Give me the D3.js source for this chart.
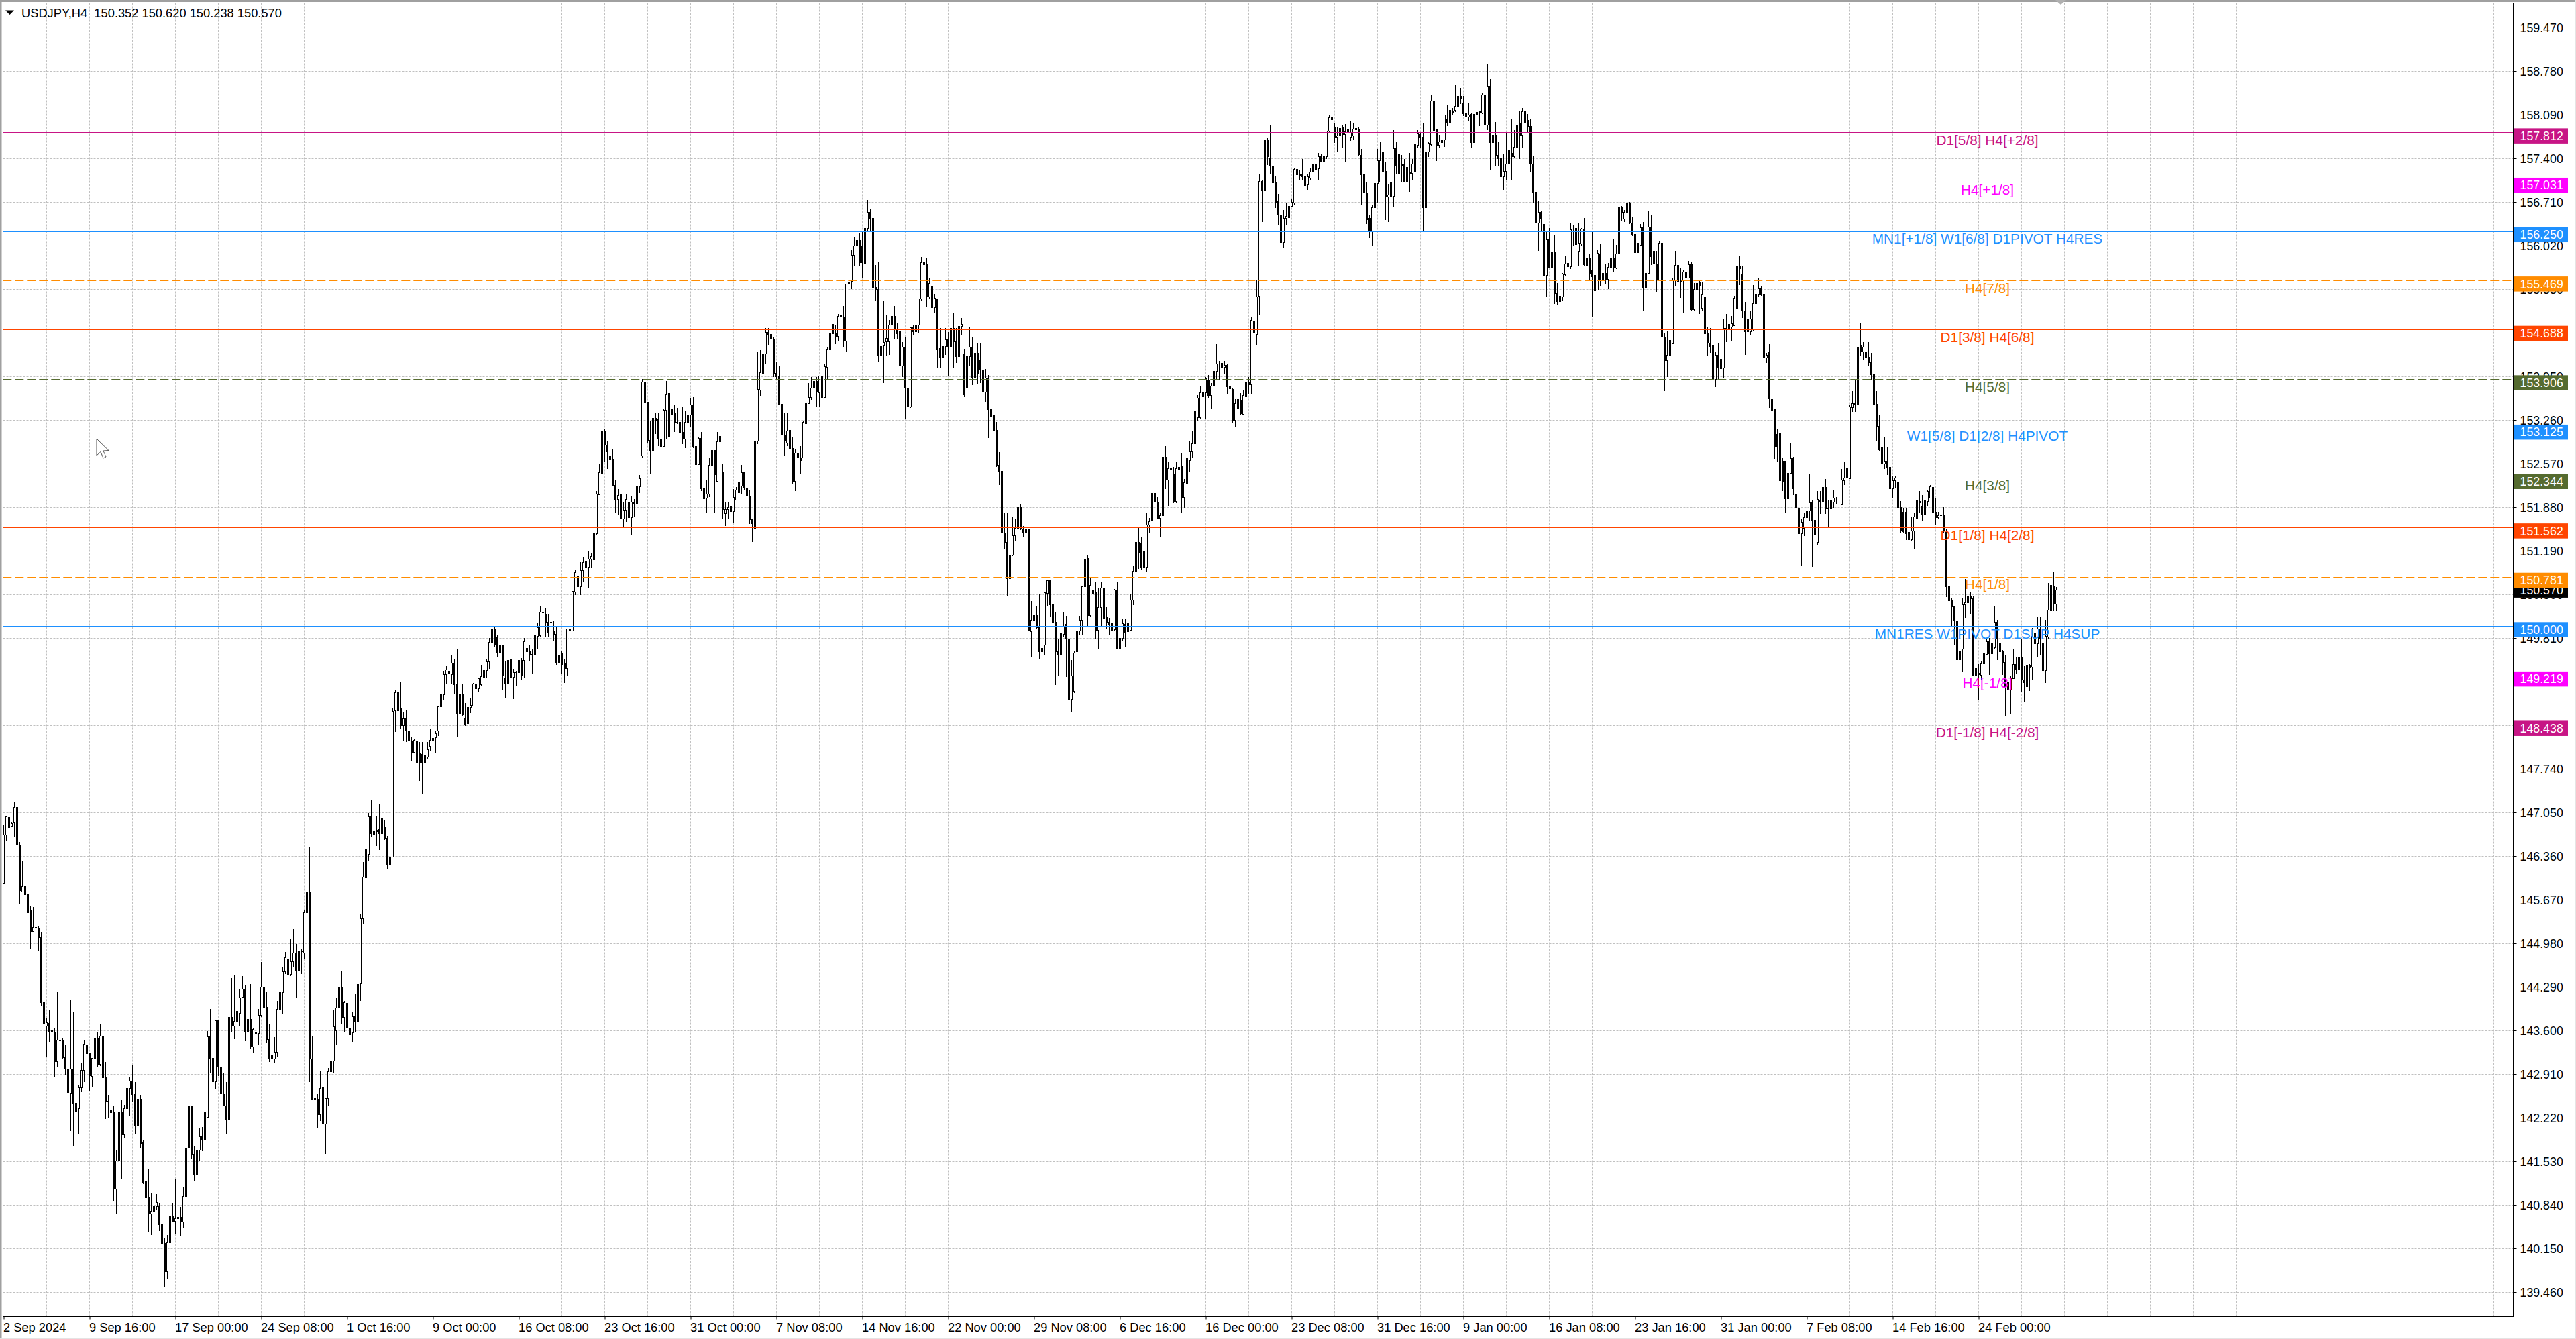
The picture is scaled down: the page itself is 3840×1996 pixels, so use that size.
<!DOCTYPE html>
<html><head><meta charset="utf-8"><script src="https://cdn.jsdelivr.net/npm/d3@7"></script>
<style>html,body{margin:0;padding:0;background:#fff;overflow:hidden}svg{display:block}text{font-family:"Liberation Sans",Arial,sans-serif}</style></head><body>
<svg id="c" width="3840" height="1996"></svg>
<script>
const opens=[
145.93,146.70,146.98,146.83,146.89,147.13,146.54,145.80,145.88,145.76,145.50,145.17,145.24,145.21,145.08,144.05,
143.67,143.72,143.60,143.58,143.11,143.45,143.45,143.18,143.00,142.60,143.00,142.45,142.37,142.70,142.97,143.38,
143.24,142.88,143.15,143.48,143.07,143.51,142.87,142.47,142.35,142.30,141.10,141.54,142.30,141.95,142.37,142.69,
142.80,142.59,142.10,142.52,141.83,141.21,140.96,140.70,140.74,140.82,140.83,140.53,140.23,139.79,140.25,140.66,
140.59,140.63,140.65,140.57,140.98,141.74,142.40,141.65,141.32,141.71,141.93,141.88,142.23,143.50,143.17,142.79,
143.77,143.03,142.59,142.40,142.19,143.81,143.67,143.75,143.88,144.13,144.26,143.59,143.78,143.35,143.57,143.56,
143.84,144.29,143.97,143.46,143.21,143.15,143.26,143.94,144.20,144.53,144.73,144.49,144.69,144.82,144.56,144.86,
144.83,145.47,145.79,143.14,142.53,142.52,142.27,142.70,142.12,142.53,142.95,143.12,143.60,143.97,144.28,143.81,
144.04,143.64,143.57,143.83,143.74,144.34,145.37,146.02,146.39,147.00,146.71,146.75,146.78,146.72,146.82,146.65,
146.23,146.35,148.66,148.95,148.70,148.43,148.55,148.33,148.19,148.01,148.18,147.98,147.97,147.84,147.93,148.10,
148.19,148.24,148.34,148.73,148.92,149.24,149.26,149.24,149.42,149.08,148.61,148.92,148.55,148.46,148.72,148.74,
149.08,149.01,149.08,149.19,149.30,149.44,149.75,149.95,149.83,149.58,149.69,149.17,149.10,149.47,149.19,149.27,
149.27,149.46,149.46,149.65,149.60,149.55,149.55,149.84,149.85,150.21,150.18,150.06,150.05,149.93,149.87,149.42,
149.57,149.41,149.33,149.93,149.93,150.54,150.79,150.63,150.88,151.03,150.93,151.06,151.05,151.47,152.08,152.42,
153.08,152.87,152.70,152.64,152.23,152.01,152.08,151.70,151.84,151.97,151.72,151.97,151.93,152.21,152.70,153.86,
153.55,152.94,152.77,153.29,153.27,152.96,152.85,153.42,153.68,153.43,153.37,153.23,153.23,153.07,152.96,153.23,
153.34,153.50,152.85,152.56,152.97,152.18,152.03,152.09,152.54,152.78,152.29,152.92,152.43,151.78,151.85,151.90,
151.82,152.00,152.11,152.22,152.44,152.18,152.06,151.69,151.55,152.93,153.74,154.00,154.31,154.65,154.62,154.53,
154.00,153.95,153.51,153.03,152.90,153.10,152.81,152.29,152.74,152.66,152.67,153.21,153.53,153.62,153.77,153.88,
153.70,153.96,153.62,154.10,154.39,154.78,154.64,154.59,154.92,154.89,154.51,155.41,155.46,155.87,156.02,156.10,
156.02,155.74,156.30,156.55,156.46,155.36,155.33,154.28,154.44,154.50,154.50,154.77,154.91,154.70,154.66,154.12,
154.42,153.77,153.47,154.74,154.66,154.77,155.18,155.75,155.73,155.21,155.38,155.04,155.18,154.40,154.25,154.43,
154.53,154.42,154.71,154.50,154.27,154.75,154.31,153.77,154.27,154.42,153.93,154.32,154.21,154.05,153.71,153.93,
153.43,153.33,153.10,152.55,152.45,151.48,151.33,150.76,151.13,151.43,151.55,151.88,151.54,151.49,151.53,149.92,
150.10,150.17,149.98,149.60,149.70,150.52,150.72,150.35,150.06,149.60,149.56,149.87,150.03,149.80,148.84,148.97,
149.60,149.93,150.10,150.63,151.07,150.17,150.57,150.53,149.94,150.30,150.61,150.14,150.06,150.04,149.95,150.57,
149.65,149.81,150.03,149.92,149.94,150.41,150.87,151.33,151.31,151.19,150.93,151.60,151.67,152.10,151.95,151.71,
151.75,152.68,152.31,152.50,152.41,151.98,152.48,152.54,152.04,152.26,152.62,152.76,152.89,153.30,153.30,153.69,
153.69,153.90,153.65,153.80,154.03,154.15,154.16,154.10,154.13,153.79,153.75,153.26,153.44,153.58,153.36,153.63,
153.85,153.82,154.82,154.62,155.22,157.04,156.90,157.70,157.40,157.28,157.03,156.72,156.51,156.07,156.46,156.47,
156.65,156.70,157.23,157.16,157.15,157.12,156.99,157.09,157.19,157.31,157.24,157.43,157.36,157.43,157.84,158.05,
157.89,157.74,157.77,157.89,157.78,157.87,157.74,157.76,157.88,157.87,157.45,157.15,156.86,156.45,156.25,156.63,
157.01,157.03,157.51,157.20,156.80,156.81,156.81,157.57,157.47,157.30,157.30,157.26,157.18,157.17,157.20,157.61,
157.78,157.74,156.62,157.51,157.62,158.31,157.86,157.61,157.66,157.70,158.03,157.96,158.15,158.16,158.22,158.39,
158.27,158.12,158.06,158.10,157.65,158.10,158.13,158.12,158.41,157.93,158.55,157.66,157.77,157.45,157.40,157.11,
157.20,157.32,157.49,157.43,157.58,157.95,157.77,158.14,158.01,157.91,157.32,156.87,156.38,156.55,156.36,155.55,
156.12,155.67,155.91,155.27,155.14,155.21,155.56,155.74,155.69,156.27,156.30,155.94,156.05,156.29,155.71,155.82,
155.63,155.55,155.32,155.89,155.47,155.59,155.49,155.68,155.83,155.67,155.89,156.62,156.44,156.55,156.70,156.38,
156.20,155.91,156.03,156.32,155.36,155.59,156.32,155.73,155.72,155.48,156.06,154.58,154.21,154.29,154.47,155.48,
155.71,155.47,155.48,155.61,155.51,155.72,155.01,155.33,155.45,155.03,155.20,154.64,154.48,154.45,153.91,154.29,
154.23,154.09,154.69,154.70,154.74,154.76,155.03,155.70,155.57,154.99,154.66,154.66,154.70,155.11,155.25,155.34,
155.26,154.25,154.33,153.59,153.43,153.04,153.06,152.61,152.61,152.02,152.42,152.66,152.08,151.87,151.47,151.55,
151.72,151.83,151.96,151.68,151.33,152.00,151.96,152.20,151.87,151.86,151.96,151.96,151.95,151.92,152.30,152.35,
152.34,153.46,153.53,153.50,154.44,154.34,154.33,154.26,154.17,153.98,153.52,153.16,152.83,152.57,152.61,152.52,
152.18,152.30,152.27,151.88,151.81,151.81,151.49,151.37,151.51,151.70,151.98,151.90,151.76,151.98,152.03,152.20,
151.81,151.72,151.75,151.76,151.49,150.64,150.41,150.32,150.09,149.47,149.64,150.34,150.37,150.47,150.44,149.23,
149.24,149.23,149.41,149.56,149.77,149.57,149.66,150.06,149.72,149.60,149.43,149.11,149.00,149.17,149.40,149.32,
149.50,149.15,149.05,149.37,149.35,149.89,149.73,149.95,149.74,149.30,149.83,150.25,150.64,150.352];
const highs=[
146.85,146.99,147.18,146.91,147.21,147.15,146.59,146.29,145.92,145.91,145.57,145.56,145.32,145.26,145.15,144.13,
143.80,143.92,143.80,143.64,144.22,143.51,143.49,143.37,143.00,144.09,143.90,142.70,142.74,143.09,143.45,143.80,
143.26,143.16,143.50,143.57,143.71,143.51,143.11,142.58,142.47,142.42,141.71,142.55,142.50,142.43,142.96,142.86,
143.05,142.79,142.67,142.58,141.88,141.30,141.42,141.03,140.95,141.01,140.88,140.59,140.31,140.37,140.93,140.88,
141.26,140.76,140.81,141.13,142.00,142.47,142.42,141.77,142.01,142.07,142.08,142.71,143.59,143.95,143.21,143.76,
143.77,143.13,142.94,142.79,143.87,144.43,144.49,144.16,144.26,144.46,144.33,143.87,144.34,143.65,143.72,143.94,
144.69,144.49,144.21,143.71,143.32,143.50,144.07,144.44,144.61,144.85,144.78,145.05,145.21,144.98,145.21,144.90,
145.51,145.80,146.50,143.51,143.09,142.60,142.96,142.85,142.53,143.01,143.38,143.92,144.12,144.40,144.54,144.07,
144.07,143.92,143.89,144.18,144.34,145.45,146.27,146.51,147.05,147.25,146.86,147.00,147.18,146.98,146.94,146.68,
146.41,148.70,149.00,148.98,149.13,148.65,148.68,148.68,148.25,148.22,148.22,148.17,148.17,148.17,148.17,148.38,
148.33,148.35,148.73,148.92,149.30,149.37,149.33,149.54,149.48,149.63,149.10,149.09,148.79,148.82,148.87,149.10,
149.19,149.19,149.38,149.44,149.49,149.82,149.98,149.98,149.86,149.76,149.71,149.44,149.49,149.48,149.33,149.30,
149.49,149.50,149.82,149.82,149.71,149.65,149.90,150.05,150.33,150.30,150.28,150.20,150.17,150.09,149.98,149.63,
149.60,149.49,149.96,150.11,150.55,150.90,150.86,151.01,151.09,151.20,151.20,151.15,151.48,152.14,152.57,153.19,
153.12,152.93,152.87,152.80,152.31,152.17,152.32,151.96,152.09,152.09,152.06,152.01,152.25,152.39,153.91,153.88,
153.55,153.26,153.31,153.38,153.38,153.12,153.45,153.88,153.77,153.50,153.50,153.46,153.46,153.48,153.41,153.50,
153.62,153.63,152.99,153.00,153.07,152.31,152.31,152.67,152.80,152.78,153.07,153.08,152.58,151.97,151.97,152.06,
152.17,152.20,152.43,152.55,152.45,152.35,152.15,151.71,152.93,154.34,154.38,154.46,154.72,154.72,154.68,154.58,
154.18,154.12,153.55,153.37,153.37,153.19,153.00,152.80,152.87,152.85,153.26,153.66,153.85,153.94,153.96,153.95,
153.97,154.05,154.15,154.42,154.93,154.85,154.77,154.94,155.23,155.07,155.42,155.62,155.96,156.15,156.26,156.23,
156.26,156.42,156.75,156.61,156.53,155.72,155.77,154.47,155.14,154.93,154.85,155.36,155.07,154.80,154.67,154.50,
154.58,154.20,154.74,154.77,154.98,155.19,155.85,155.88,155.82,155.52,155.45,155.26,155.19,154.72,154.66,154.72,
154.66,154.91,154.96,154.72,155.01,154.88,154.39,154.72,154.73,154.58,154.53,154.48,154.48,154.22,154.07,153.98,
153.71,153.47,153.23,152.76,152.49,151.80,151.80,151.19,151.74,151.71,151.95,151.93,151.59,151.60,151.55,150.40,
150.36,150.33,150.52,149.74,150.55,150.73,150.72,150.40,150.23,149.79,149.95,150.23,150.17,150.10,149.46,149.61,
150.17,150.17,150.64,151.22,151.13,150.78,150.60,150.71,150.60,150.71,150.62,150.30,150.13,150.22,150.59,150.71,
150.11,150.11,150.12,150.10,150.52,150.95,151.36,151.58,151.41,151.40,151.79,151.72,152.18,152.17,152.04,151.79,
152.71,152.85,152.60,152.66,152.52,152.60,152.77,152.74,152.33,152.68,152.94,153.08,153.47,153.66,153.81,153.81,
153.95,153.98,153.85,154.12,154.47,154.20,154.34,154.20,154.15,153.95,153.77,153.59,153.64,153.69,153.74,153.93,
153.95,154.89,154.89,155.47,157.15,157.05,157.81,157.73,157.93,157.39,157.13,156.84,156.67,156.59,156.69,156.67,
156.77,157.26,157.24,157.22,157.40,157.17,157.15,157.26,157.38,157.39,157.49,157.48,157.49,157.84,158.09,158.08,
157.96,157.89,157.93,157.93,157.95,157.91,158.00,157.97,158.08,157.89,157.55,157.15,157.03,156.50,156.67,157.03,
157.55,157.66,157.78,157.35,157.00,157.26,157.85,157.67,157.58,157.46,157.40,157.42,157.49,157.39,157.82,157.85,
157.82,157.97,157.66,157.66,158.41,158.43,157.87,157.78,158.42,158.10,158.25,158.25,158.20,158.56,158.50,158.52,
158.39,158.15,158.28,158.12,158.19,158.27,158.15,158.43,158.45,158.89,158.66,157.97,157.98,157.66,157.67,157.48,
157.80,157.66,158.03,157.85,158.15,158.15,158.20,158.15,158.11,158.02,157.45,157.08,156.74,156.58,156.51,156.26,
156.30,156.36,156.19,155.43,155.41,155.59,155.86,155.81,156.38,156.34,156.59,156.38,156.30,156.46,156.05,155.89,
156.24,155.59,155.96,156.06,155.71,155.74,155.75,155.97,156.12,156.04,156.71,156.65,156.59,156.76,156.72,156.48,
156.36,156.08,156.36,156.40,155.71,156.58,156.51,156.06,155.94,156.10,156.25,154.63,154.68,154.72,155.50,155.94,
155.98,155.68,155.63,155.77,155.78,155.77,155.43,155.59,155.47,155.45,155.25,154.74,154.72,154.48,154.34,154.48,
154.50,154.86,154.94,155.00,154.91,155.23,155.88,155.87,155.70,155.13,154.92,155.00,155.40,155.40,155.51,155.38,
155.26,154.33,154.46,153.65,153.45,153.12,153.21,152.67,152.61,152.53,152.89,152.68,152.20,151.90,151.70,151.79,
151.90,152.42,152.00,151.88,152.14,152.14,152.53,152.33,152.00,152.04,152.16,152.04,152.10,152.49,152.60,152.61,
153.50,153.72,153.89,154.45,154.80,154.50,154.67,154.50,154.33,153.99,153.72,153.34,153.02,153.00,152.83,152.83,
152.38,152.38,152.37,151.98,151.86,151.86,151.53,151.74,151.80,152.22,152.14,152.08,152.05,152.16,152.24,152.40,
152.02,151.81,151.82,151.89,151.53,150.75,150.44,150.32,150.23,149.81,150.45,150.75,150.66,150.54,150.48,149.34,
149.40,149.44,149.60,149.82,149.82,149.81,150.31,150.10,149.81,149.62,149.55,149.22,149.22,149.63,149.51,149.67,
149.79,149.37,149.40,149.40,149.97,149.95,150.16,150.15,150.15,150.10,150.69,151.00,150.87,150.620];
const lows=[
145.92,146.61,146.81,146.83,146.66,146.39,145.60,145.80,145.16,145.46,144.89,145.15,144.76,144.87,144.00,143.71,
143.18,143.42,143.05,142.86,143.03,143.19,143.15,142.90,142.06,142.01,141.77,142.23,141.97,142.63,142.79,143.11,
142.65,142.71,142.85,143.03,143.04,142.75,142.20,142.21,142.03,140.90,140.71,141.30,141.26,141.90,142.23,142.25,
142.47,141.97,141.91,141.74,141.17,140.65,140.42,140.37,140.29,140.77,140.43,139.94,139.54,139.67,140.24,140.59,
140.39,140.32,140.35,140.47,140.87,141.71,141.57,141.23,141.28,141.55,141.69,140.44,142.21,142.94,142.04,142.68,
142.88,142.52,142.41,141.97,141.74,143.58,143.47,143.68,143.68,144.13,143.44,143.16,143.31,143.26,143.40,143.37,
143.82,143.80,143.40,143.11,142.89,143.09,143.18,143.90,143.86,144.50,144.45,144.47,144.61,144.11,144.30,144.50,
144.73,144.98,142.79,142.52,142.40,142.07,142.17,142.12,141.65,142.41,142.75,142.93,143.38,143.66,143.70,143.57,
142.96,143.32,143.42,143.57,143.53,144.07,145.29,145.97,146.28,146.67,146.30,146.52,146.46,146.58,146.62,146.16,
145.93,146.35,148.33,148.65,148.38,148.19,148.17,148.03,147.87,148.00,147.57,147.55,147.35,147.73,147.90,148.03,
147.95,148.00,148.27,148.52,148.83,149.09,149.02,149.09,148.92,148.26,148.38,148.57,148.43,148.41,148.63,148.74,
148.97,148.97,149.06,149.14,149.19,149.33,149.60,149.68,149.52,149.44,149.00,148.87,148.90,149.08,148.85,149.06,
149.15,149.15,149.19,149.44,149.44,149.25,149.39,149.65,149.83,150.00,149.84,149.84,149.79,149.76,149.38,149.19,
149.25,149.10,149.22,149.60,149.93,150.50,150.50,150.50,150.71,150.67,150.61,150.93,151.04,151.44,152.08,152.42,
152.60,152.49,152.51,152.22,151.79,151.77,151.66,151.57,151.65,151.60,151.45,151.74,151.85,152.11,152.67,153.39,
152.89,152.42,152.74,153.04,152.85,152.76,152.83,152.96,153.01,153.34,153.07,153.20,152.80,152.88,152.82,153.15,
153.15,152.82,151.93,152.55,152.14,151.85,151.79,152.04,152.09,151.79,152.28,152.87,151.71,151.59,151.71,151.53,
151.63,151.99,152.07,152.10,152.16,151.98,151.62,151.33,151.30,152.88,153.65,153.96,154.15,154.45,154.40,153.95,
153.90,153.50,152.92,152.70,152.85,152.57,152.25,152.14,152.46,152.41,152.66,153.12,153.53,153.58,153.69,153.47,
153.47,153.39,153.61,153.90,154.28,154.50,154.47,154.51,154.64,154.42,154.34,155.39,155.34,155.70,155.70,155.70,
155.52,155.70,156.26,156.26,155.29,155.15,154.18,153.85,153.85,154.28,154.30,154.64,154.55,154.55,153.96,153.95,
153.28,153.42,153.46,154.60,154.53,154.65,155.15,155.63,155.05,155.18,154.88,154.96,154.08,154.09,153.91,154.29,
153.96,154.17,154.09,154.17,154.26,154.61,153.63,153.53,154.12,153.82,153.62,153.83,153.85,153.55,153.55,152.98,
153.20,153.01,152.52,152.24,151.35,151.22,150.47,150.68,151.11,151.34,151.54,151.52,151.41,151.43,149.92,149.52,
149.95,149.95,149.49,149.46,149.54,150.33,150.14,149.91,149.07,149.22,149.22,149.84,149.20,148.81,148.64,148.95,
149.58,149.87,149.87,150.60,150.00,150.14,150.00,149.79,149.65,150.00,149.95,149.95,149.87,149.76,149.92,149.65,
149.35,149.76,149.68,149.83,149.92,150.34,150.62,150.91,150.90,150.88,150.87,151.47,151.66,151.82,151.71,151.41,
151.00,152.17,151.91,152.28,151.95,151.95,152.25,151.80,151.87,152.24,152.44,152.66,152.87,153.25,153.29,153.55,
153.29,153.62,153.44,153.66,153.90,153.90,153.96,153.99,153.68,153.68,153.22,153.16,153.36,153.34,153.34,153.62,
153.68,153.68,154.45,154.45,154.93,156.40,156.87,157.30,157.15,156.84,156.62,156.35,155.94,155.98,156.34,156.33,
156.63,156.67,157.01,157.07,157.07,156.89,156.91,157.07,157.16,157.11,157.07,157.34,157.34,157.40,157.82,157.85,
157.65,157.50,157.66,157.58,157.35,157.66,157.68,157.70,157.80,157.45,156.67,156.85,156.36,156.14,156.02,156.62,
156.69,157.03,157.03,156.43,156.40,156.63,156.63,157.15,157.07,157.03,157.02,157.01,156.87,157.07,157.09,157.56,
157.58,156.26,156.46,157.43,157.61,157.76,157.36,157.56,157.55,157.59,157.92,157.93,158.10,158.14,158.21,158.27,
158.07,157.76,158.00,157.57,157.64,157.93,157.92,158.11,157.62,157.85,157.22,157.35,157.28,157.28,157.03,156.91,
157.07,157.30,157.07,157.42,157.30,157.40,157.58,157.93,157.82,157.19,156.71,156.26,155.94,156.26,155.47,155.21,
155.66,155.65,155.10,155.09,154.98,155.16,155.55,155.55,155.65,156.02,155.94,155.71,156.03,155.71,155.53,155.47,
154.90,154.77,155.31,155.39,155.24,155.42,155.34,155.55,155.61,155.65,155.81,156.42,156.40,156.54,156.36,156.17,
155.91,155.75,156.03,155.00,154.84,155.58,155.72,155.71,155.29,155.47,154.46,153.72,153.94,154.24,154.46,155.39,
155.26,155.20,154.95,155.49,155.50,155.00,155.00,155.25,154.94,155.00,154.27,154.27,154.33,153.81,153.79,153.90,
153.91,153.92,154.50,154.60,154.52,154.75,155.00,155.40,154.88,154.29,153.99,154.60,154.67,155.02,155.21,155.23,
154.17,154.17,153.46,153.11,152.65,152.60,152.13,152.14,151.80,152.01,152.41,152.08,151.80,151.23,150.96,151.43,
151.43,151.66,150.94,151.21,151.29,151.78,151.78,151.78,151.57,151.78,151.86,151.93,151.65,151.93,152.24,152.32,
152.33,153.39,153.39,153.49,154.27,154.22,154.11,154.11,153.89,153.42,152.93,152.77,152.45,152.49,152.39,152.10,
152.02,152.18,151.84,151.47,151.47,151.36,151.33,151.34,151.23,151.68,151.80,151.67,151.59,151.90,152.02,151.73,
151.61,151.70,151.25,151.47,150.46,150.18,149.99,149.70,149.40,149.45,149.28,150.13,150.25,150.19,149.23,148.93,
148.84,149.15,149.33,149.54,149.23,149.40,149.65,149.46,149.22,149.23,148.57,148.91,148.62,149.17,149.24,149.22,
148.97,148.81,148.75,148.98,149.15,149.35,149.52,149.55,149.27,149.10,149.79,150.24,150.24,150.238];
const closes=[
146.70,146.99,146.81,146.88,147.13,146.54,145.82,145.88,145.76,145.47,145.17,145.24,145.22,145.08,144.05,143.72,
143.73,143.58,143.59,143.11,143.45,143.44,143.18,143.00,142.61,143.00,142.45,142.33,142.70,142.97,143.39,143.24,
142.89,143.16,143.48,143.07,143.51,142.86,142.47,142.49,142.30,141.10,141.54,142.30,141.95,142.37,142.69,142.80,
142.59,142.10,142.52,141.82,141.20,140.96,140.70,140.74,140.82,140.88,140.53,140.23,139.79,140.25,140.66,140.59,
140.63,140.65,140.57,140.98,141.74,142.41,141.65,141.32,141.71,141.92,141.88,142.30,143.50,143.17,142.79,143.76,
143.03,142.60,142.41,142.19,143.81,143.67,143.75,143.91,144.12,144.26,143.59,143.78,143.35,143.62,143.56,143.84,
144.29,143.97,143.46,143.15,143.17,143.26,143.94,144.20,144.53,144.76,144.49,144.69,144.83,144.56,144.86,144.85,
145.47,145.80,143.15,142.52,142.52,142.27,142.69,142.12,142.53,142.95,143.12,143.66,143.96,144.28,143.81,144.05,
143.64,143.54,143.82,143.74,144.33,145.37,146.03,146.48,146.99,146.72,146.75,146.77,146.72,146.97,146.65,146.23,
146.34,148.65,148.95,148.66,148.43,148.54,148.34,148.19,148.01,148.20,147.84,147.84,147.85,147.95,148.05,148.20,
148.23,148.30,148.73,148.92,149.24,149.31,149.29,149.42,149.08,148.61,148.92,148.60,148.44,148.72,148.75,149.09,
149.01,149.17,149.21,149.30,149.44,149.75,149.95,149.71,149.58,149.69,149.22,149.10,149.46,149.19,149.27,149.28,
149.46,149.22,149.76,149.60,149.56,149.54,149.86,149.98,150.22,150.22,150.06,149.90,150.07,149.87,149.42,149.53,
149.40,149.33,149.96,149.96,150.55,150.85,150.63,150.88,151.01,150.93,151.06,151.10,151.48,152.09,152.43,153.08,
152.87,152.76,152.64,152.23,152.01,152.07,151.70,151.84,152.01,151.72,151.97,151.93,152.22,152.34,153.86,153.55,
152.93,152.77,153.29,153.25,152.96,152.85,153.42,153.66,153.01,153.35,153.23,153.22,153.07,152.96,153.23,153.34,
153.50,152.85,152.56,152.97,152.18,152.02,152.09,152.55,152.78,152.40,152.92,153.00,151.85,151.85,151.88,151.82,
152.04,152.16,152.28,152.43,152.20,152.06,151.69,151.62,152.93,153.75,154.01,154.31,154.65,154.62,154.55,154.00,
153.95,153.52,153.03,152.94,153.09,152.81,152.28,152.74,152.67,152.62,153.23,153.53,153.62,153.77,153.88,153.72,
153.96,153.62,154.11,154.39,154.63,154.63,154.59,154.91,154.89,154.51,155.42,155.45,155.87,156.02,156.11,155.75,
155.75,156.30,156.55,156.45,155.36,155.33,154.28,154.43,154.49,154.55,154.77,154.91,154.69,154.63,154.12,154.42,
153.77,153.47,154.73,154.66,154.77,155.18,155.75,155.72,155.21,155.43,155.04,155.19,154.39,154.25,154.43,154.53,
154.42,154.71,154.50,154.27,154.75,154.78,153.66,154.27,154.42,153.93,154.32,154.00,154.07,153.71,153.93,153.43,
153.32,153.09,152.55,152.44,151.48,151.33,150.76,151.13,151.43,151.55,151.88,151.54,151.49,151.53,149.94,150.10,
150.17,149.98,149.60,149.65,150.53,150.72,150.34,150.07,149.60,149.56,149.88,150.00,149.80,148.84,149.22,149.58,
149.93,150.10,150.63,151.06,150.17,150.65,150.52,149.94,150.30,150.61,150.12,150.05,150.02,149.93,150.57,149.65,
149.81,150.04,149.91,150.04,150.42,150.87,151.33,151.17,150.94,150.92,151.60,151.66,152.10,151.96,151.71,151.75,
152.68,152.31,152.50,152.47,151.98,152.50,152.52,152.04,152.27,152.66,152.76,152.89,153.40,153.61,153.69,153.63,
153.92,153.64,153.80,154.04,154.15,154.15,154.10,154.13,153.79,153.76,153.25,153.53,153.59,153.37,153.65,153.85,
153.82,154.84,154.65,155.21,157.04,156.90,157.70,157.43,157.28,157.02,156.71,156.52,156.07,156.46,156.49,156.65,
156.71,157.23,157.15,157.13,157.11,156.98,157.11,157.19,157.31,157.23,157.43,157.35,157.44,157.84,158.05,158.02,
157.74,157.76,157.88,157.78,157.82,157.81,157.80,157.87,157.86,157.46,157.15,156.86,156.43,156.25,156.63,157.01,
157.37,157.37,157.20,156.80,156.83,157.03,157.56,157.28,157.17,157.28,157.03,157.03,157.16,157.32,157.62,157.79,
157.74,156.62,157.51,157.64,158.31,157.85,157.60,157.67,157.69,158.09,157.96,158.16,158.12,158.23,158.39,158.36,
158.11,158.06,158.09,157.65,158.10,158.13,158.14,158.41,157.93,158.55,157.66,157.77,157.44,157.40,157.11,157.20,
157.32,157.53,157.43,157.58,157.93,157.77,158.14,157.96,157.91,157.32,156.86,156.38,156.55,156.46,155.55,156.12,
155.67,155.91,155.26,155.14,155.22,155.57,155.73,155.69,156.27,156.28,156.04,156.06,156.29,155.72,155.82,155.59,
155.53,155.31,155.90,155.47,155.58,155.48,155.68,155.83,155.67,155.89,156.62,156.54,156.55,156.70,156.38,156.20,
155.91,156.06,156.31,155.36,155.59,156.32,155.85,155.94,155.48,156.06,154.59,154.21,154.29,154.52,155.48,155.71,
155.45,155.45,155.61,155.51,155.72,155.01,155.33,155.43,155.38,155.25,154.63,154.48,154.42,153.91,154.29,154.09,
154.08,154.71,154.71,154.78,154.79,155.19,155.70,155.66,155.00,154.66,154.86,154.86,155.11,155.25,155.34,155.25,
154.25,154.29,153.60,153.42,152.84,152.85,152.30,152.29,152.02,152.42,152.66,152.18,151.87,151.47,151.65,151.72,
151.83,151.95,151.68,151.45,152.01,151.96,152.20,151.86,151.86,152.00,152.03,151.96,151.95,152.31,152.35,152.50,
153.47,153.53,153.50,154.42,154.34,154.42,154.25,154.17,153.98,153.52,153.16,152.79,152.57,152.61,152.51,152.18,
152.30,152.35,151.88,151.51,151.50,151.47,151.37,151.51,151.73,152.00,151.95,151.76,151.99,152.14,152.21,151.80,
151.72,151.75,151.76,151.52,150.63,150.40,150.31,150.09,149.47,149.60,150.34,150.37,150.47,150.44,149.23,149.33,
149.26,149.41,149.57,149.76,149.57,149.72,150.06,149.81,149.60,149.43,149.02,149.00,149.17,149.40,149.32,149.50,
149.15,149.11,149.37,149.34,149.84,149.73,149.96,149.81,149.30,149.84,150.26,150.65,150.36,150.570];
const priceTicks=["159.470","158.780","158.090","157.400","156.710","156.020","155.330","154.640","153.950","153.260","152.570","151.880","151.190","150.500","149.810","149.120","148.430","147.740","147.050","146.360","145.670","144.980","144.290","143.600","142.910","142.220","141.530","140.840","140.150","139.460"];
const timeLabels=["2 Sep 2024","9 Sep 16:00","17 Sep 00:00","24 Sep 08:00","1 Oct 16:00","9 Oct 00:00","16 Oct 08:00","23 Oct 16:00","31 Oct 00:00","7 Nov 08:00","14 Nov 16:00","22 Nov 00:00","29 Nov 08:00","6 Dec 16:00","16 Dec 00:00","23 Dec 08:00","31 Dec 16:00","9 Jan 00:00","16 Jan 08:00","23 Jan 16:00","31 Jan 00:00","7 Feb 08:00","14 Feb 16:00","24 Feb 00:00"];
const levelPrices=[157.812,157.031,156.250,155.469,154.688,153.906,153.125,152.344,151.562,150.781,150.000,149.219,148.438];
const levelNames=["D1[5/8] H4[+2/8]","H4[+1/8]","MN1[+1/8] W1[6/8] D1PIVOT H4RES","H4[7/8]","D1[3/8] H4[6/8]","H4[5/8]","W1[5/8] D1[2/8] H4PIVOT","H4[3/8]","D1[1/8] H4[2/8]","H4[1/8]","MN1RES W1PIVOT D1SUP H4SUP","H4[-1/8]","D1[-1/8] H4[-2/8]"];
const levelColors=["#c71585","#ff00ff","#1e90ff","#ff8c00","#ff4500","#556b2f","#1e90ff","#556b2f","#ff4500","#ff8c00","#1e90ff","#ff00ff","#c71585"];
const levelWidths=[1,1,2,1,1,1,1,1,1,1,2,1,1];
const levelDashed=[0,1,0,1,0,1,0,1,0,1,0,1,0];
const bidPrice=150.570;
const header="USDJPY,H4  150.352 150.620 150.238 150.570";

const L=4.5,T=4.5,R=3746.5,B=1962.5;
const x=d3.scaleLinear().domain([0,32]).range([5.5,133.5]);
const y=d3.scaleLinear().domain([139.46,159.47]).range([1926.5,41.5]);
const px=v=>Math.round(y(v)-.5)+.5;
const svg=d3.select("#c");
const clipId="plot";
svg.append("defs").append("clipPath").attr("id",clipId).append("rect").attr("x",L).attr("y",T).attr("width",R-L).attr("height",B-T);
svg.append("rect").attr("width",3840).attr("height",3).attr("fill","#a0a0a0");
svg.append("rect").attr("width",2.5).attr("height",1996).attr("fill","#a0a0a0");
svg.append("rect").attr("x",3838).attr("width",2).attr("height",1996).attr("fill","#e4e4e4");
svg.append("rect").attr("y",1994.5).attr("width",3840).attr("height",2).attr("fill","#e4e4e4");
const grid=svg.append("g").attr("clip-path",`url(#${clipId})`).attr("stroke","#c0c0c0").attr("stroke-dasharray","3 2");
priceTicks.forEach(t=>grid.append("line").attr("x1",L).attr("x2",R).attr("y1",px(+t)).attr("y2",px(+t)));
for(let k=16;x(k)<R;k+=16)grid.append("line").attr("x1",x(k)).attr("x2",x(k)).attr("y1",T).attr("y2",B);
const yAxis=d3.axisRight(y).tickValues(priceTicks.map(Number)).tickSize(5).tickPadding(4).tickFormat(d3.format(".3f"));
const ya=svg.append("g").attr("transform",`translate(${R},0)`).call(yAxis);
ya.select(".domain").remove();
ya.selectAll("line").attr("stroke","#000").attr("transform",d=>`translate(0,${px(d)-y(d)-.5})`);
ya.selectAll("text").attr("font-size",17.8).attr("fill","#000").attr("x",10).attr("dy",".35em");
const xAxis=d3.axisBottom(x).tickValues(timeLabels.map((_,i)=>i*32)).tickSize(4).tickPadding(3).tickFormat((d,i)=>timeLabels[i]);
const xa=svg.append("g").attr("transform",`translate(0,${B})`).call(xAxis);
xa.select(".domain").remove();
xa.selectAll("line").attr("stroke","#000");
xa.selectAll("text").attr("font-size",18.3).attr("fill","#000").attr("text-anchor","start").attr("x",-1).attr("y",4).attr("dy","1em");
const idx=d3.range(closes.length);
const plot=svg.append("g").attr("clip-path",`url(#${clipId})`);
plot.append("line").attr("x1",L).attr("x2",R).attr("y1",px(bidPrice)).attr("y2",px(bidPrice)).attr("stroke","#c0c0c0");
const cand=plot.append("g").attr("shape-rendering","crispEdges");
cand.selectAll("line").data(idx).join("line").attr("x1",i=>x(i)).attr("x2",i=>x(i))
 .attr("y1",i=>y(Math.max(highs[i],opens[i],closes[i]))).attr("y2",i=>y(Math.min(lows[i],opens[i],closes[i]))).attr("stroke","#000");
cand.selectAll("rect").data(idx).join("rect").attr("x",i=>x(i)-1).attr("width",2)
 .attr("y",i=>px(Math.max(opens[i],closes[i]))).attr("height",i=>Math.abs(px(opens[i])-px(closes[i])))
 .attr("fill",i=>closes[i]>=opens[i]?"#fff":"#000").attr("stroke","#000");
levelPrices.forEach((p,i)=>{
 const yy=levelWidths[i]==2?Math.round(y(p)):px(p);
 plot.append("line").attr("x1",levelDashed[i]?x(-.3):L).attr("x2",R).attr("y1",yy).attr("y2",yy).attr("stroke",levelColors[i]).attr("stroke-width",levelWidths[i]).attr("stroke-dasharray",levelDashed[i]?"13 5":null);
 plot.append("text").attr("x",2962.5).attr("y",y(p)+11).attr("dy",".35em").attr("text-anchor","middle").attr("font-size",20.8).attr("fill",levelColors[i]).text(levelNames[i]);
});
svg.append("rect").attr("x",L).attr("y",T).attr("width",R-L).attr("height",B-T).attr("fill","none").attr("stroke","#000").attr("shape-rendering","crispEdges");
const bx=svg.append("g");
function box(p,c,h0){const yy=y(p);bx.append("rect").attr("x",3748).attr("y",yy+h0).attr("width",80).attr("height",22.5).attr("fill",c);
 bx.append("text").attr("x",3756.5).attr("y",yy+h0+11.2).attr("dy",".35em").attr("font-size",17.8).attr("fill","#fff").text(p.toFixed(3));}
box(bidPrice,"#000",-11.5);
levelPrices.forEach((p,i)=>box(p,levelColors[i],-6.3));
svg.append("path").attr("d","M8,15.5 L21,15.5 L14.5,22 Z").attr("fill","#000");
svg.append("text").attr("x",32).attr("y",19.5).attr("dy",".35em").attr("font-size",18.3).attr("fill","#000").style("white-space","pre").text(header);
svg.append("path").attr("d","M3064,0 L3080,0 L3072,7 Z").attr("fill","#b0b0b0");
svg.append("path").attr("d","M144,654 L144,679 L150,673.5 L154,683 L158,681 L154,672 L162,671.5 Z").attr("fill","#fff").attr("stroke","#555");
</script></body></html>
